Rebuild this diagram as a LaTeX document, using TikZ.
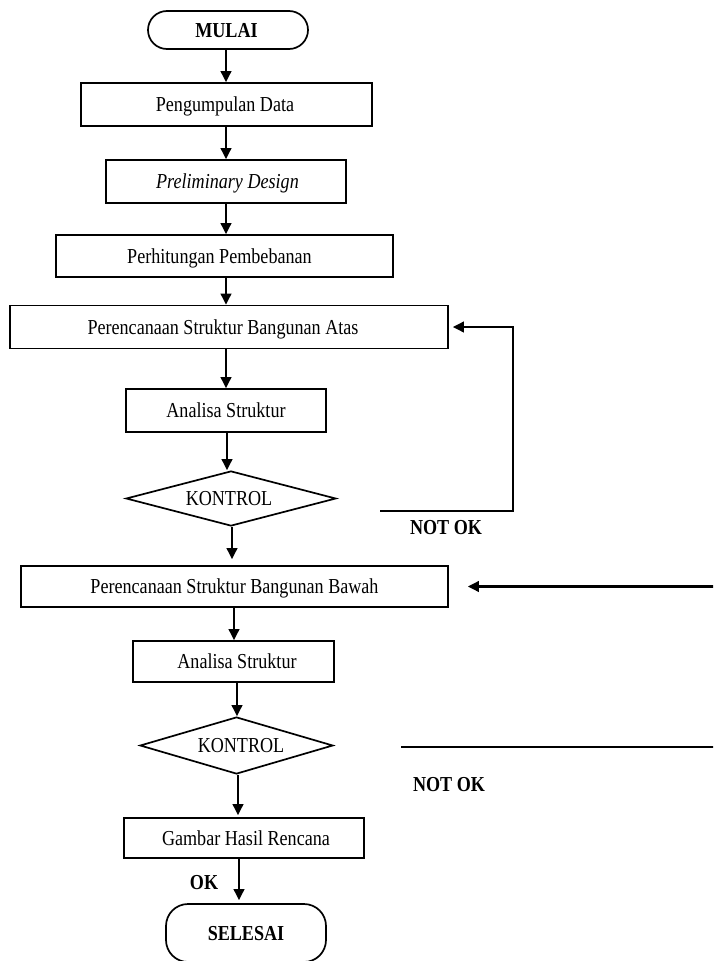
\documentclass[tikz,border=0pt]{standalone}
\usepackage{fontspec}
\setmainfont{Liberation Serif}[FakeStretch=0.85]
\usetikzlibrary{shapes.geometric,arrows.meta}
\newcommand{\myfs}{\fontsize{21.3}{25}\selectfont}
\begin{document}
\begin{tikzpicture}[x=1pt,y=-1pt,
  box/.style={draw, line width=1.7pt, rectangle, inner sep=0pt, text height=14pt, text depth=0pt, font=\myfs},
  term/.style={box, rounded corners=19pt, font=\myfs\bfseries},
  dec/.style={draw, line width=1.7pt, diamond, aspect=3.8, inner sep=0pt, text height=14pt, text depth=0pt, font=\myfs},
  arr/.style={line width=2.3pt, -{Triangle[length=11pt,width=10.5pt]}},
  ln/.style={line width=2.3pt},
  lab/.style={font=\myfs\bfseries, inner sep=0pt}]
\clip (0,0) rectangle (713,961);
\fill[white] (0,0) rectangle (713,961);

\node[term, minimum width=160pt, minimum height=38pt] (mulai) at (228,30) {\hspace*{-3pt}MULAI};
\node[box, minimum width=291pt, minimum height=43pt] (peng) at (226.5,104.5) {\hspace*{-3pt}Pengumpulan Data};
\node[box, minimum width=240pt, minimum height=43pt] (prelim) at (226,181.5) {\hspace*{3pt}\itshape Preliminary Design};
\node[box, minimum width=337pt, minimum height=42pt] (perhit) at (224.5,256) {\hspace*{-10pt}Perhitungan Pembebanan};
\node[box, minimum width=438pt, minimum height=43pt] (atas) at (229,327) {\hspace*{-12pt}Perencanaan Struktur Bangunan Atas};
\node[box, minimum width=200pt, minimum height=43pt] (anal1) at (226,410.5) {Analisa Struktur};
\node[dec, minimum width=210pt, minimum height=55pt] (kon1) at (231,498.5) {\hspace*{-4pt}KONTROL};
\node[box, minimum width=427pt, minimum height=41pt] (bawah) at (234.5,586.5) {Perencanaan Struktur Bangunan Bawah};
\node[box, minimum width=201pt, minimum height=41pt] (anal2) at (233.5,661.5) {\hspace*{7pt}Analisa Struktur};
\node[dec, minimum width=193pt, minimum height=57pt] (kon2) at (236.5,745.5) {\hspace*{9pt}KONTROL};
\node[box, minimum width=240pt, minimum height=40pt] (gambar) at (244,838) {\hspace*{4pt}Gambar Hasil Rencana};
\node[term, rounded corners=22pt, minimum width=160pt, minimum height=58pt] (selesai) at (246,933) {SELESAI};

\node[lab] (nok1) at (446,528) {NOT OK};
\node[lab] (nok2) at (449,785) {NOT OK};
\node[lab] (ok) at (204,883) {OK};

\coordinate (xa) at (226,0);
\coordinate (xb) at (227,0);
\coordinate (xc) at (232,0);
\coordinate (xd) at (234,0);
\coordinate (xe) at (237,0);
\coordinate (xf) at (238,0);
\coordinate (xg) at (239,0);

\draw[arr] (mulai.south -| xa) -- (peng.north -| xa);
\draw[arr] (peng.south -| xa) -- (prelim.north -| xa);
\draw[arr] (prelim.south -| xa) -- (perhit.north -| xa);
\draw[arr] (perhit.south -| xa) -- (atas.north -| xa);
\draw[arr] (atas.south -| xa) -- (anal1.north -| xa);
\draw[arr] (anal1.south -| xb) -- (kon1.north -| xb);
\draw[arr, shorten >=6pt] (kon1.south -| xc) -- (bawah.north -| xc);
\draw[arr] (bawah.south -| xd) -- (anal2.north -| xd);
\draw[arr] (anal2.south -| xe) -- (kon2.north -| xe);
\draw[arr, shorten >=2pt] (kon2.south -| xf) -- (gambar.north -| xf);
\draw[arr, shorten >=3pt] (gambar.south -| xg) -- (selesai.north -| xg);

\coordinate (n1s) at (380,511);
\coordinate (n1c) at (513,511);
\draw[arr] (n1s) -- (n1c) |- ([xshift=4pt]atas.east);

\coordinate (n2s) at (716,586.5);
\draw[arr] (n2s) -- ([xshift=19pt]bawah.east);

\coordinate (n3s) at (401,747);
\coordinate (n3e) at (716,747);
\draw[ln] (n3s) -- (n3e);
\end{tikzpicture}
\end{document}
